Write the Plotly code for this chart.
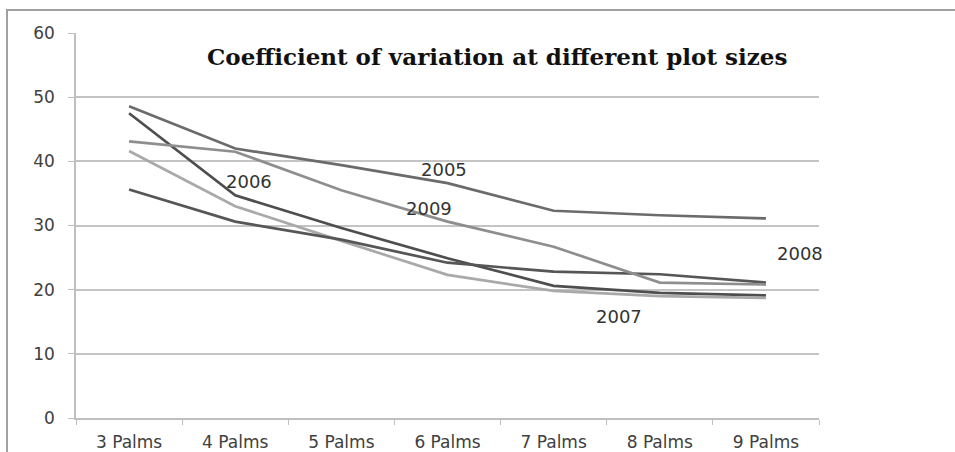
import plotly.graph_objects as go

categories = ["3 Palms", "4 Palms", "5 Palms", "6 Palms", "7 Palms", "8 Palms", "9 Palms"]
y2005 = [48.6, 42.0, 39.4, 36.6, 32.3, 31.6, 31.1]
y2006 = [47.5, 34.7, 29.6, 24.9, 20.6, 19.5, 19.1]
y2007 = [41.6, 33.0, 27.6, 22.3, 19.8, 19.0, 18.7]
y2008 = [35.6, 30.6, 27.8, 24.2, 22.8, 22.4, 21.1]
y2009 = [43.1, 41.5, 35.5, 30.6, 26.7, 21.1, 20.8]

series = [
    ("2005", y2005, "#6b6b6b"),
    ("2006", y2006, "#4e4e4e"),
    ("2007", y2007, "#a9a9a9"),
    ("2008", y2008, "#565656"),
    ("2009", y2009, "#8e8e8e"),
]

label_pos = {
    "2006": (1.13, 36.8),
    "2005": (2.97, 38.7),
    "2009": (2.83, 32.7),
    "2007": (4.62, 15.8),
    "2008": (6.32, 25.6),
}

fig = go.Figure()
for name, vals, col in series:
    fig.add_trace(go.Scatter(x=categories, y=vals, mode="lines", name=name,
                             line=dict(color=col, width=2.7)))

for name, (lx, ly) in label_pos.items():
    fig.add_annotation(x=lx, y=ly, text=name, showarrow=False,
                       xref="x", yref="y",
                       font=dict(family="DejaVu Sans", size=18, color="#333333"))

fig.add_annotation(x=0.567, y=0.938, xref="paper", yref="paper",
                   text="<b>Coefficient of variation at different plot sizes</b>",
                   showarrow=False, xanchor="center", yanchor="middle",
                   font=dict(family="DejaVu Serif", size=23, color="#111111"))

fig.add_shape(type="rect", xref="paper", yref="paper",
              x0=-0.0929, y0=-0.2, x1=1.4, y1=1.0597,
              line=dict(color="#a0a0a0", width=2), fillcolor="rgba(0,0,0,0)", layer="below")

fig.update_layout(
    width=955, height=452,
    margin=dict(l=76, r=136, t=33, b=34),
    paper_bgcolor="white", plot_bgcolor="white",
    showlegend=False,
    xaxis=dict(type="category", range=[-0.5, 6.5], tickson="boundaries",
               ticks="outside", ticklen=5, tickcolor="#bfbfbf",
               showline=True, linecolor="#bfbfbf", linewidth=1.5,
               showgrid=False, ticklabelstandoff=8, automargin=False,
               tickfont=dict(family="DejaVu Sans", size=17, color="#404040")),
    yaxis=dict(range=[0, 60], dtick=10, ticks="outside", ticklen=6,
               tickcolor="#bfbfbf", showline=True, linecolor="#bfbfbf", linewidth=1.5,
               gridcolor="#c4c4c4", gridwidth=1.5, zeroline=False,
               ticklabelstandoff=10, automargin=False,
               tickfont=dict(family="DejaVu Sans", size=17, color="#404040")),
)

fig.write_html("out.html", config={"displayModeBar": False},
               post_script="document.body.style.margin='0';document.body.style.overflow='hidden';")
